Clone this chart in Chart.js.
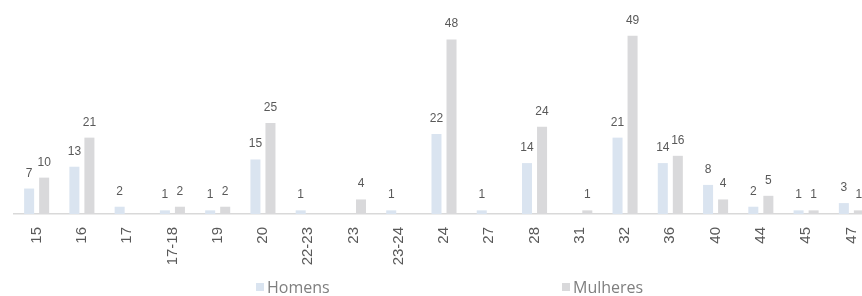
<!DOCTYPE html>
<html>
<head>
<meta charset="utf-8">
<script src="https://cdn.jsdelivr.net/npm/chart.js@4/dist/chart.umd.min.js"></script>
<style>
  body { margin: 0; width: 862px; height: 296px; overflow: hidden; position: relative; background: #fff; }
  #wrap { position: absolute; left: 0; top: 0; width: 874px; height: 296px; }
  .lg { position: absolute; top: 276px; height: 22px; display: flex; align-items: center;
        font-family: "Open Sans", sans-serif; font-size: 16px; color: #7f7f7f; }
  .lg span.box { width: 8px; height: 8px; margin-right: 3px; display: inline-block; }
</style>
</head>
<body>
<div id="wrap"><canvas id="chart"></canvas></div>
<div class="lg" style="left:256px"><span class="box" id="b0"></span>Homens</div>
<div class="lg" style="left:562px"><span class="box" id="b1"></span>Mulheres</div>
<script>
// idades (categorias)
const categorias = ["15", "16", "17", "17-18", "19", "20", "22-23", "23", "23-24", "24",
                    "27", "28", "31", "32", "36", "40", "44", "45", "47"];
const homens   = [7, 13, 2, 1, 1, 15, 1, null, 1, 22, 1, 14, null, 21, 14, 8, 2, 1, 3];
const mulheres = [10, 21, null, 2, 2, 25, null, 4, null, 48, null, 24, 1, 49, 16, 4, 5, 1, 1];

const corHomens = "#dae4f0";
const corMulheres = "#d9d9db";
document.getElementById("b0").style.background = corHomens;
document.getElementById("b1").style.background = corMulheres;

// rotulos de valor acima das barras
const valorLabels = {
  id: "valorLabels",
  afterDatasetsDraw(chart) {
    const ctx = chart.ctx;
    ctx.save();
    ctx.font = "12px 'Liberation Sans', Arial, sans-serif";
    ctx.fillStyle = "#595959";
    ctx.textAlign = "center";
    ctx.textBaseline = "alphabetic";
    chart.data.datasets.forEach((ds, i) => {
      chart.getDatasetMeta(i).data.forEach((bar, j) => {
        const v = ds.data[j];
        if (v === null || v === undefined) return;
        ctx.fillText(String(v), bar.x, bar.y - 12);
      });
    });
    ctx.restore();
  }
};

new Chart(document.getElementById("chart"), {
  type: "bar",
  data: {
    labels: categorias,
    datasets: [
      { label: "Homens", data: homens, backgroundColor: corHomens },
      { label: "Mulheres", data: mulheres, backgroundColor: corMulheres }
    ]
  },
  options: {
    responsive: true,
    maintainAspectRatio: false,
    animation: false,
    categoryPercentage: 0.664,
    barPercentage: 0.667,
    layout: { padding: { left: 14, top: 14, right: 0, bottom: 0 } },
    plugins: { legend: { display: false }, tooltip: { enabled: false } },
    scales: {
      y: { display: false, min: 0, max: 55 },
      x: {
        grid: { display: false, drawTicks: false },
        border: { display: true, color: "#d9d9d9", width: 1.5 },
        ticks: {
          autoSkip: false,
          minRotation: 90,
          maxRotation: 90,
          padding: 13,
          color: "#595959",
          font: { family: "'Liberation Sans', Arial, sans-serif", size: 15 }
        },
        afterFit(scale) {
          scale.height = 82;
          scale.paddingLeft = 0;
          scale.paddingRight = 0;
        }
      }
    }
  },
  plugins: [valorLabels]
});
</script>
</body>
</html>
